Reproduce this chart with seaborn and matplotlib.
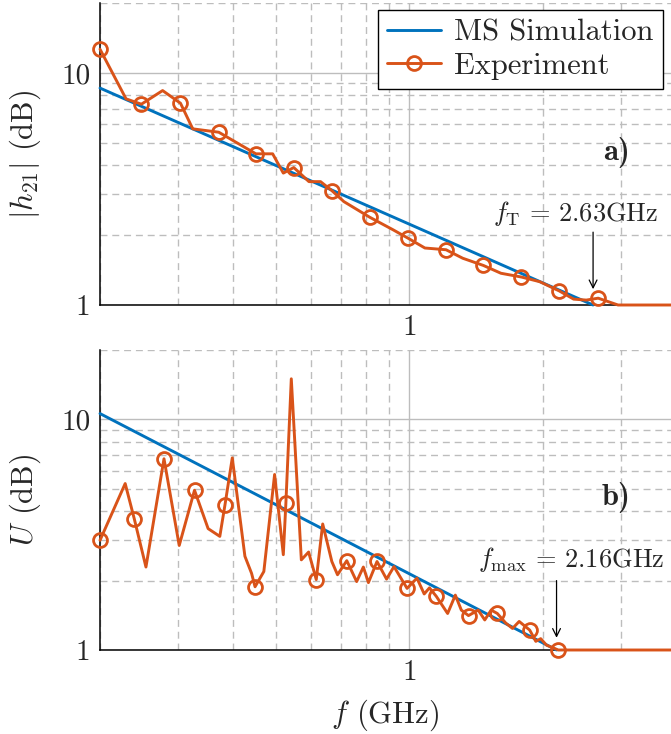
import numpy as np
import pandas as pd
import matplotlib
matplotlib.use("Agg")
import matplotlib.pyplot as plt
import seaborn as sns
from matplotlib.ticker import LogLocator, FixedLocator, FixedFormatter, NullFormatter

# ---------------- data ----------------
# Panel a) |h21| (dB)
sim_a_f = [0.2, 2.6]
sim_a_v = [8.6, 1.0]

exp_a_f = [0.200, 0.229, 0.248, 0.277, 0.304, 0.324, 0.371, 0.450, 0.491, 0.519,
           0.548, 0.593, 0.630, 0.668, 0.711, 0.813, 0.918, 0.993, 1.084, 1.21,
           1.32, 1.47, 1.61, 1.79, 1.97, 2.18, 2.35, 2.51, 2.67, 2.96, 4.2]
exp_a_v = [12.65, 7.73, 7.33, 8.39, 7.40, 5.74, 5.55, 4.48, 4.48, 3.70,
           3.91, 3.40, 3.40, 3.11, 2.79, 2.39, 2.11, 1.94, 1.76, 1.73,
           1.59, 1.48, 1.37, 1.32, 1.26, 1.15, 1.06, 1.05, 1.07, 1.0, 1.0]
exp_a_marks = [0, 2, 4, 6, 7, 10, 13, 15, 17, 19, 21, 23, 25, 28]

# Panel b) U (dB)
sim_b_f = [0.2, 2.15]
sim_b_v = [10.6, 1.0]

exp_b_f = [0.200, 0.228, 0.239, 0.254, 0.279, 0.302, 0.327, 0.351, 0.373, 0.383,
           0.398, 0.425, 0.440, 0.448, 0.469, 0.496, 0.519, 0.526, 0.541, 0.570,
           0.592, 0.616, 0.637, 0.668, 0.688, 0.722, 0.760, 0.787, 0.808, 0.845,
           0.888, 0.923, 0.988, 1.04, 1.08, 1.11, 1.15, 1.22, 1.27, 1.31,
           1.36, 1.43, 1.48, 1.53, 1.58, 1.65, 1.71, 1.77, 1.87, 1.93,
           1.98, 2.04, 2.17, 4.2]
exp_b_v = [2.99, 5.27, 3.71, 2.29, 6.75, 2.84, 4.93, 3.36, 3.11, 4.24,
           6.81, 2.55, 2.15, 1.88, 2.19, 5.77, 2.59, 4.34, 15.0, 2.46,
           2.66, 2.02, 3.52, 2.42, 2.12, 2.44, 1.98, 2.29, 1.96, 2.42,
           2.03, 2.30, 1.85, 2.05, 1.75, 1.86, 1.71, 1.44, 1.73, 1.49,
           1.41, 1.49, 1.35, 1.49, 1.44, 1.31, 1.24, 1.33, 1.22, 1.09,
           1.12, 1.05, 1.0, 1.0]
exp_b_marks = [0, 2, 4, 6, 9, 13, 17, 21, 25, 29, 32, 36, 40, 44, 48, 52]

x_ticks = [1]
x_ticklabels = ["1"]
y_ticks = [1, 10]
y_ticklabels = ["1", "10"]

BLUE = "#0072BD"
ORANGE = "#D95319"

# ---------------- style ----------------
sns.set_style("white")
plt.rcParams["font.family"] = ["cmr10", "DejaVu Serif"]
plt.rcParams["mathtext.fontset"] = "cm"
plt.rcParams["axes.formatter.use_mathtext"] = True
plt.rcParams["font.size"] = 21

W, H = 671, 734
fig = plt.figure(figsize=(W / 100, H / 100), dpi=100)
left_px, right_px = 100, 671
ax1 = fig.add_axes([left_px / W, (H - 305) / H, (right_px - left_px) / W, (305 - 3) / H])
ax2 = fig.add_axes([left_px / W, (H - 650) / H, (right_px - left_px) / W, (650 - 350) / H])

xmax = 10 ** ((671 - 408) / 445)


def style_axes(ax):
    ax.set_xscale("log")
    ax.set_yscale("log")
    ax.set_xlim(0.2, xmax)
    ax.set_ylim(1, 20)
    ax.xaxis.set_major_locator(FixedLocator(x_ticks))
    ax.xaxis.set_major_formatter(FixedFormatter(x_ticklabels))
    ax.yaxis.set_major_locator(FixedLocator(y_ticks))
    ax.yaxis.set_major_formatter(FixedFormatter(y_ticklabels))
    ax.xaxis.set_minor_locator(LogLocator(base=10, subs=np.arange(2, 10)))
    ax.yaxis.set_minor_locator(LogLocator(base=10, subs=np.arange(2, 10)))
    ax.xaxis.set_minor_formatter(NullFormatter())
    ax.yaxis.set_minor_formatter(NullFormatter())
    ax.grid(which="major", color="#bdbdbd", lw=1.0, ls="-")
    ax.grid(which="minor", color="#bdbdbd", lw=1.0, ls=(0, (5, 3.5)))
    ax.set_axisbelow(True)
    for s in ["top", "right"]:
        ax.spines[s].set_visible(False)
    for s in ["left", "bottom"]:
        ax.spines[s].set_color("black")
        ax.spines[s].set_linewidth(1.1)
    ax.tick_params(which="major", direction="in", length=5, width=0.8, color="#333333",
                   labelsize=21, pad=7)
    ax.tick_params(which="minor", direction="in", length=3, width=0.6, color="#555555")
    ax.tick_params(axis="x", which="both", top=False)
    ax.tick_params(axis="y", which="both", right=False)


for ax in (ax1, ax2):
    style_axes(ax)

df_sa = pd.DataFrame({"f": sim_a_f, "v": sim_a_v})
df_ea = pd.DataFrame({"f": exp_a_f, "v": exp_a_v})
df_sb = pd.DataFrame({"f": sim_b_f, "v": sim_b_v})
df_eb = pd.DataFrame({"f": exp_b_f, "v": exp_b_v})

line_kw = dict(lw=2.1, clip_on=False, zorder=3)
mk_kw = dict(marker="o", markersize=10, markerfacecolor="none",
             markeredgecolor=ORANGE, markeredgewidth=2.0)

sns.lineplot(data=df_sa, x="f", y="v", ax=ax1, color=BLUE, sort=False,
             estimator=None, label="MS Simulation", **line_kw)
sns.lineplot(data=df_ea, x="f", y="v", ax=ax1, color=ORANGE, sort=False,
             estimator=None, label="Experiment", markevery=exp_a_marks,
             **mk_kw, **line_kw)

sns.lineplot(data=df_sb, x="f", y="v", ax=ax2, color=BLUE, sort=False,
             estimator=None, legend=False, **line_kw)
sns.lineplot(data=df_eb, x="f", y="v", ax=ax2, color=ORANGE, sort=False,
             estimator=None, legend=False, markevery=exp_b_marks,
             **mk_kw, **line_kw)

for ax in (ax1, ax2):
    ax.set_xlim(0.2, xmax)
    ax.set_ylim(1, 20)

ax1.set_xlabel("")
ax1.set_ylabel(r"$|h_{21}|$ (dB)", fontsize=22)
ax2.set_ylabel(r"$U$ (dB)", fontsize=22)
ax2.set_xlabel(r"$f$ (GHz)", fontsize=22, labelpad=8)
ax1.yaxis.set_label_coords(-0.1, 0.5)
ax2.yaxis.set_label_coords(-0.1, 0.5)

leg = ax1.legend(loc="upper right", bbox_to_anchor=(663 / W, (H - 10) / H),
                 bbox_transform=fig.transFigure, borderaxespad=0,
                 fancybox=False, framealpha=1, edgecolor="black",
                 fontsize=22, handlelength=1.75, handletextpad=0.45,
                 borderpad=0.3, labelspacing=0.2)
leg.get_frame().set_linewidth(1.0)

# Panel labels
ax1.text(2.93, 4.52, "a)", fontfamily="cmb10", fontsize=22, ha="center", va="center")
ax2.text(2.93, 4.58, "b)", fontfamily="cmb10", fontsize=22, ha="center", va="center")

# Annotations
ax1.annotate("", xy=(2.6, 1.17), xytext=(2.6, 2.06),
             arrowprops=dict(arrowstyle="->", color="black", lw=0.9,
                             shrinkA=0, shrinkB=0, mutation_scale=14))
ax1.text(2.37, 2.49, r"$f_{\mathrm{T}}\,=\,2.63\mathrm{GHz}$", fontsize=19,
         ha="center", va="center")

ax2.annotate("", xy=(2.15, 1.13), xytext=(2.15, 2.0),
             arrowprops=dict(arrowstyle="->", color="black", lw=0.9,
                             shrinkA=0, shrinkB=0, mutation_scale=14))
ax2.text(2.32, 2.46, r"$f_{\max}\,=\,2.16\mathrm{GHz}$", fontsize=19,
         ha="center", va="center")

fig.savefig("out.png", dpi=100)
